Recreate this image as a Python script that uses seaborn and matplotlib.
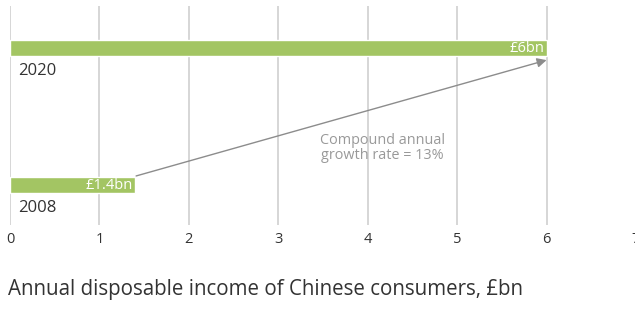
import seaborn as sns
import matplotlib.pyplot as plt
import pandas as pd

# Data
years = ['2020', '2008']
income = [6.0, 1.4]
bar_labels = ['£6bn', '£1.4bn']
x_ticks = [0, 1, 2, 3, 4, 5, 6, 7]
growth_note = 'Compound annual\ngrowth rate = 13%'
title = 'Annual disposable income of Chinese consumers, £bn'

green = '#a3c563'
grid_grey = '#d0d0d0'
text_dark = '#333333'

sns.set_style('white')
plt.rcParams['font.family'] = ['Open Sans', 'DejaVu Sans']

df = pd.DataFrame({'year': years, 'income': income})

fig = plt.figure(figsize=(6.35, 3.26), dpi=100)
ax = fig.add_axes([10 / 635, 1 - 225 / 326, 626 / 635, 219 / 326])

sns.barplot(data=df, y='year', x='income', orient='h', color=green,
            saturation=1, width=0.117, ax=ax)

ax.set_xlim(0, 7)
ax.set_ylim(1.292, -0.307)
ax.set_xticks(x_ticks)
ax.grid(axis='x', color=grid_grey, linewidth=1.2)
ax.set_axisbelow(True)
for s in ax.spines.values():
    s.set_visible(False)
ax.set_yticks([])
ax.set_xlabel('')
ax.set_ylabel('')
ax.tick_params(axis='x', length=0, pad=5, labelsize=10.5, labelcolor=text_dark)

# value labels inside the bars and year labels underneath
for i, (v, lab, yr) in enumerate(zip(income, bar_labels, years)):
    ax.text(v - 0.03, i, lab, ha='right', va='center', color='white', fontsize=10.5)
    ax.text(0.09, i + 0.17, yr, ha='left', va='center', color=text_dark, fontsize=12)

# growth arrow from the 2008 bar end to the 2020 bar end
ax.annotate('', xy=(income[0], 0.088), xytext=(income[1] + 0.01, 0.934),
            arrowprops=dict(arrowstyle='-|>', color='#8c8c8c', lw=1,
                            mutation_scale=14, shrinkA=0, shrinkB=0))
ax.text(4.16, 0.73, growth_note, ha='center', va='center', color='#999999',
        fontsize=10.4, linespacing=1.0)

fig.text(8 / 635, 1 - 290 / 326, title, ha='left', va='center',
         color=text_dark, fontsize=14.8)

fig.savefig('out.png', dpi=100)
